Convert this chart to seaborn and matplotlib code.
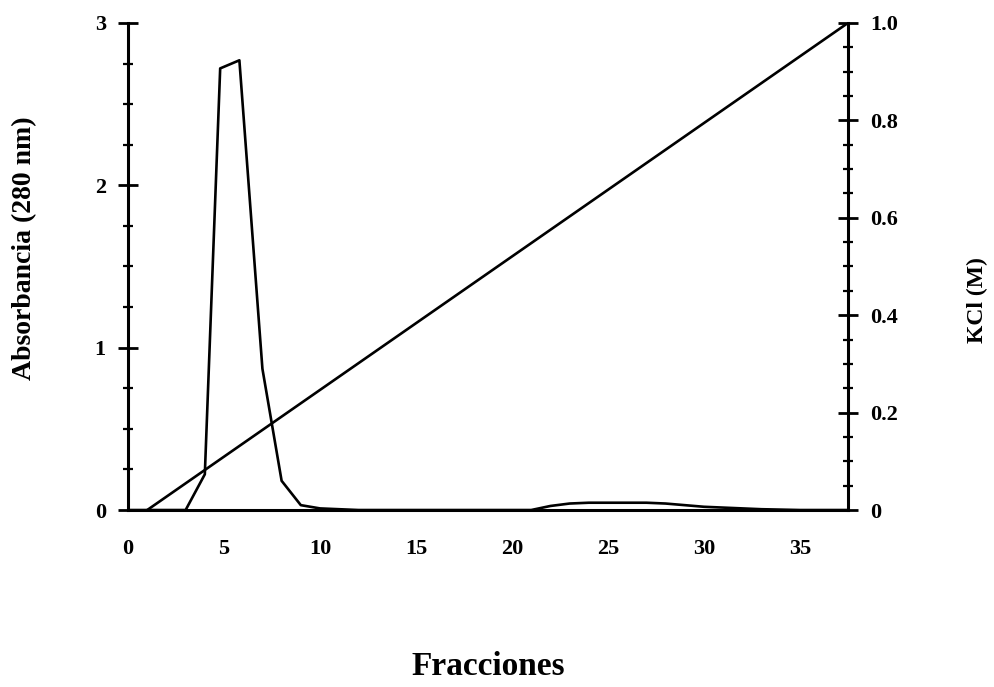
import matplotlib
matplotlib.use("Agg")
import matplotlib.pyplot as plt
import seaborn as sns
import pandas as pd
from matplotlib.ticker import MultipleLocator, FixedLocator, FuncFormatter

# Data
fraccion_abs = [0, 1, 2, 3, 4, 4.8, 5.8, 7, 8, 9, 10, 12, 15, 18, 21, 22, 23, 24, 25, 26, 27, 28, 29, 30, 31, 32, 33, 35, 37.5]
absorbancia = [0, 0, 0, 0, 0.22, 2.72, 2.77, 0.87, 0.18, 0.03, 0.01, 0, 0, 0, 0, 0.025, 0.04, 0.045, 0.045, 0.045, 0.045, 0.04, 0.03, 0.02, 0.015, 0.01, 0.005, 0, 0]
fraccion_kcl = [1, 37.5]
kcl = [0.0, 1.0]

left_ticks = [0, 1, 2, 3]
right_ticks = [0, 0.2, 0.4, 0.6, 0.8, 1.0]
right_labels = ["0", "0.2", "0.4", "0.6", "0.8", "1.0"]
x_ticks = [0, 5, 10, 15, 20, 25, 30, 35]

sns.set_style("white")
plt.rcParams['font.family'] = ['Liberation Serif', 'DejaVu Serif']
plt.rcParams['font.weight'] = 'bold'
plt.rcParams['text.color'] = 'black'
plt.rcParams['axes.labelcolor'] = 'black'
plt.rcParams['xtick.color'] = 'black'
plt.rcParams['ytick.color'] = 'black'

df_abs = pd.DataFrame({"Fraccion": fraccion_abs, "Abs": absorbancia})
df_kcl = pd.DataFrame({"Fraccion": fraccion_kcl, "KCl": kcl})

fig = plt.figure(figsize=(9.94, 6.87), dpi=100)
ax = fig.add_axes([0.1288, 0.2576, 0.7243, 0.709])
ax2 = ax.twinx()

sns.lineplot(data=df_abs, x="Fraccion", y="Abs", ax=ax, color="black", linewidth=1.9, estimator=None, sort=False)
sns.lineplot(data=df_kcl, x="Fraccion", y="KCl", ax=ax2, color="black", linewidth=1.9, estimator=None, sort=False)

ax.set_xlim(0, 37.5)
ax.set_ylim(0, 3)
ax2.set_ylim(0, 1.0)

for a in (ax, ax2):
    for s in a.spines.values():
        s.set_visible(False)
ax.spines['left'].set_visible(True)
ax.spines['bottom'].set_visible(True)
ax2.spines['right'].set_visible(True)
for s in (ax.spines['left'], ax.spines['bottom'], ax2.spines['right']):
    s.set_linewidth(2.2)
    s.set_color("black")

ax.xaxis.set_major_locator(FixedLocator(x_ticks))
ax.xaxis.set_minor_locator(MultipleLocator(1))
ax.yaxis.set_major_locator(FixedLocator(left_ticks))
ax.yaxis.set_minor_locator(MultipleLocator(0.25))
ax2.yaxis.set_major_locator(FixedLocator(right_ticks))
ax2.yaxis.set_minor_locator(MultipleLocator(0.05))
ax2.yaxis.set_major_formatter(FuncFormatter(lambda v, p: right_labels[right_ticks.index(round(v, 2))] if round(v, 2) in right_ticks else ""))

ax.tick_params(axis='x', which='major', direction='out', length=9, width=2, labelsize=16, pad=12)
ax.tick_params(axis='x', which='minor', direction='out', length=5, width=1.6)
ax.tick_params(axis='y', which='major', direction='inout', length=14, width=2, labelsize=16, pad=9)
ax.tick_params(axis='y', which='minor', direction='inout', length=7, width=1.6)
ax2.tick_params(axis='y', which='major', direction='inout', length=14, width=2, labelsize=16, pad=9)
ax2.tick_params(axis='y', which='minor', direction='inout', length=7, width=1.6)

for lab in ax.get_xticklabels() + ax.get_yticklabels() + ax2.get_yticklabels():
    lab.set_fontweight('bold')

ax.set_xlabel("Fracciones", fontsize=24, fontweight='bold', labelpad=66)
ax.set_ylabel("Absorbancia (280 nm)", fontsize=20, fontweight='bold')
ax.yaxis.set_label_coords(-0.126, 0.538)
ax2.set_ylabel("KCl (M)", fontsize=17, fontweight='bold')
ax2.yaxis.set_label_coords(1.165, 0.431)

fig.savefig("out.png", dpi=100, facecolor="white")
